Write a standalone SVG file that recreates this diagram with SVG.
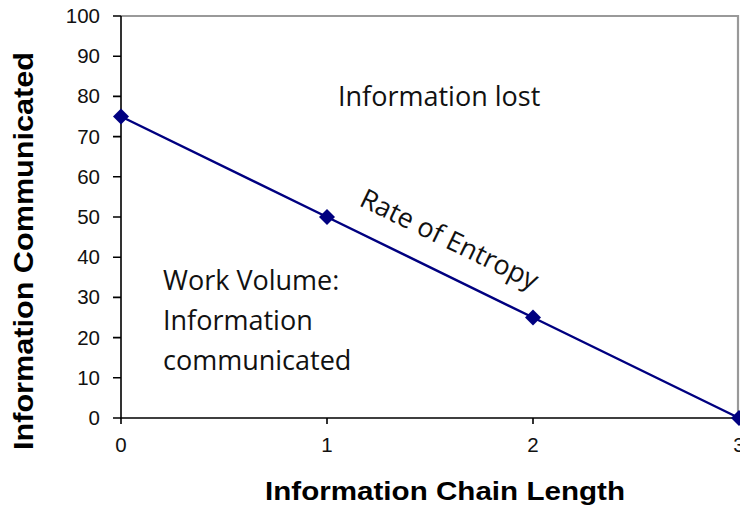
<svg xmlns="http://www.w3.org/2000/svg" width="740" height="525" viewBox="0 0 740 525">
<style>
.tick{font-family:"Liberation Sans",Arial,sans-serif;font-size:20.5px;fill:#111}
.yt{text-anchor:end}
.xt{text-anchor:middle}
.title{font-family:"Liberation Sans",Arial,sans-serif;font-weight:bold;fill:#000}
.note{font-family:"Open Sans",sans-serif;font-size:27px;fill:#111}
.axis{stroke:#000;stroke-width:1.6;fill:none}
.frame{stroke:#999;stroke-width:2.2;fill:none}
.series{stroke:#000080;stroke-width:2.5;fill:none}
.pt{fill:#000080}
</style>
<defs>
<path id="dia" d="M0,-8 L8,0 L0,8 L-8,0 Z"/>
</defs>
<rect width="740" height="525" fill="#fff"/>
<g id="plot-frame">
<path class="frame" d="M121,16 H738 V418"/>
</g>
<g id="axes">
<path class="axis" d="M121,16 V418 H740"/>
<path class="axis" d="M113,16H121M113,56.2H121M113,96.4H121M113,136.6H121M113,176.8H121M113,217H121M113,257.2H121M113,297.4H121M113,337.6H121M113,377.8H121M113,418H121"/>
<path class="axis" d="M121,418V424M327,418V424M533,418V424"/>
</g>
<g id="y-ticks">
<text class="tick yt" x="100" y="23">100</text>
<text class="tick yt" x="100" y="63.2">90</text>
<text class="tick yt" x="100" y="103.4">80</text>
<text class="tick yt" x="100" y="143.6">70</text>
<text class="tick yt" x="100" y="183.8">60</text>
<text class="tick yt" x="100" y="224">50</text>
<text class="tick yt" x="100" y="264.2">40</text>
<text class="tick yt" x="100" y="304.4">30</text>
<text class="tick yt" x="100" y="344.6">20</text>
<text class="tick yt" x="100" y="384.8">10</text>
<text class="tick yt" x="100" y="425">0</text>
</g>
<g id="x-ticks">
<text class="tick xt" x="121" y="452">0</text>
<text class="tick xt" x="327" y="452">1</text>
<text class="tick xt" x="533" y="452">2</text>
<text class="tick xt" x="739" y="452">3</text>
</g>
<g id="connectors">
<path class="series" d="M121,116.5 L327,217 L533,317.5 L739,418"/>
</g>
<g id="points">
<use href="#dia" class="pt" x="121" y="116.5"/>
<use href="#dia" class="pt" x="327" y="217"/>
<use href="#dia" class="pt" x="533" y="317.5"/>
<use href="#dia" class="pt" x="739" y="418"/>
</g>
<g id="label-lost">
<text class="note" x="338" y="106">Information lost</text>
</g>
<g id="label-work">
<text class="note" x="163" y="290">Work Volume:</text>
<text class="note" x="163" y="330">Information</text>
<text class="note" x="163" y="370">communicated</text>
</g>
<g id="label-entropy">
<text class="note" transform="translate(358,205) rotate(26)">Rate of Entropy</text>
</g>
<g id="x-title">
<text class="title" x="265" y="500" font-size="26" textLength="360" lengthAdjust="spacingAndGlyphs">Information Chain Length</text>
</g>
<g id="y-title">
<text class="title" font-size="28" text-anchor="middle" textLength="398" lengthAdjust="spacingAndGlyphs" transform="translate(33,251) rotate(-90)">Information Communicated</text>
</g>
</svg>
